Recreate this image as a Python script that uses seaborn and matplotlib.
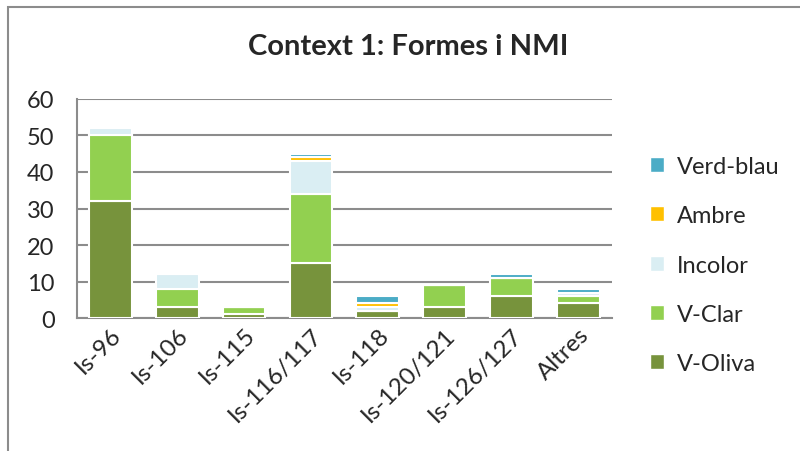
import pandas as pd
import numpy as np
import matplotlib
matplotlib.use("Agg")
import matplotlib.pyplot as plt
import seaborn as sns
from matplotlib.patches import Rectangle

# ── DATA ──────────────────────────────────────────────────────
categories = ["Is-96", "Is-106", "Is-115", "Is-116/117", "Is-118",
              "Is-120/121", "Is-126/127", "Altres"]
v_oliva = [32, 3, 1, 15, 2, 3, 6, 4]
v_clar = [18, 5, 2, 19, 0, 6, 5, 2]
incolor = [2, 4, 0, 9, 1, 0, 0, 1]
ambre = [0, 0, 0, 1, 1, 0, 0, 0]
verd_blau = [0, 0, 0, 1, 2, 0, 1, 1]

series_names = ["V-Oliva", "V-Clar", "Incolor", "Ambre", "Verd-blau"]
series_vals = [v_oliva, v_clar, incolor, ambre, verd_blau]
colors = ["#77933C", "#92D050", "#DAEEF3", "#FFC000", "#4BACC6"]

# ── PLOT ──────────────────────────────────────────────────────
sns.set_style("white")
plt.rcParams["font.family"] = ["Lato", "DejaVu Sans"]

fig = plt.figure(figsize=(8, 4.52), dpi=100)
ax = fig.add_axes([0.096, 0.294, 0.669, 0.485])

bottom = np.zeros(len(categories))
handles = []
for name, vals, col in zip(series_names, series_vals, colors):
    df = pd.DataFrame({"cat": categories, "val": vals})
    sns.barplot(data=df, x="cat", y="val", order=categories, color=col,
                bottom=bottom, width=0.64, edgecolor="white", linewidth=1.5,
                saturation=1, ax=ax, zorder=3)
    handles.append(Rectangle((0, 0), 1, 1, facecolor=col, edgecolor="white"))
    bottom = bottom + np.array(vals)

ax.set_ylim(0, 60)
ax.set_yticks(range(0, 61, 10))
ax.set_xlim(-0.5, len(categories) - 0.5)
ax.yaxis.grid(True, color="#8c8c8c", linewidth=1.5, zorder=0)
ax.set_axisbelow(True)
for s in ax.spines.values():
    s.set_visible(False)
for side in ["left", "bottom"]:
    ax.spines[side].set_visible(True)
    ax.spines[side].set_color("#8c8c8c")
    ax.spines[side].set_linewidth(1.5)
ax.set_xlabel("")
ax.set_ylabel("")
ax.tick_params(axis="y", labelsize=17, pad=16, length=0)
ax.tick_params(axis="x", labelsize=17.5, length=0, pad=4)
plt.setp(ax.get_xticklabels(), rotation=45, ha="right", rotation_mode="anchor")

fig.suptitle("Context 1: Formes i NMI", x=0.51, y=0.925, fontsize=21,
             fontweight="bold")

fig.legend(handles[::-1], series_names[::-1], loc="upper left",
           bbox_to_anchor=(0.786, 0.7), frameon=False, fontsize=17,
           handlelength=0.6, handleheight=0.6, handletextpad=0.55,
           labelspacing=1.2)

# outer chart border
fig.patches.append(Rectangle((0.01, -0.05), 1.05, 1.032, transform=fig.transFigure,
                             fill=False, edgecolor="#8c8c8c", linewidth=1.5))

fig.savefig("out.png", dpi=100)
